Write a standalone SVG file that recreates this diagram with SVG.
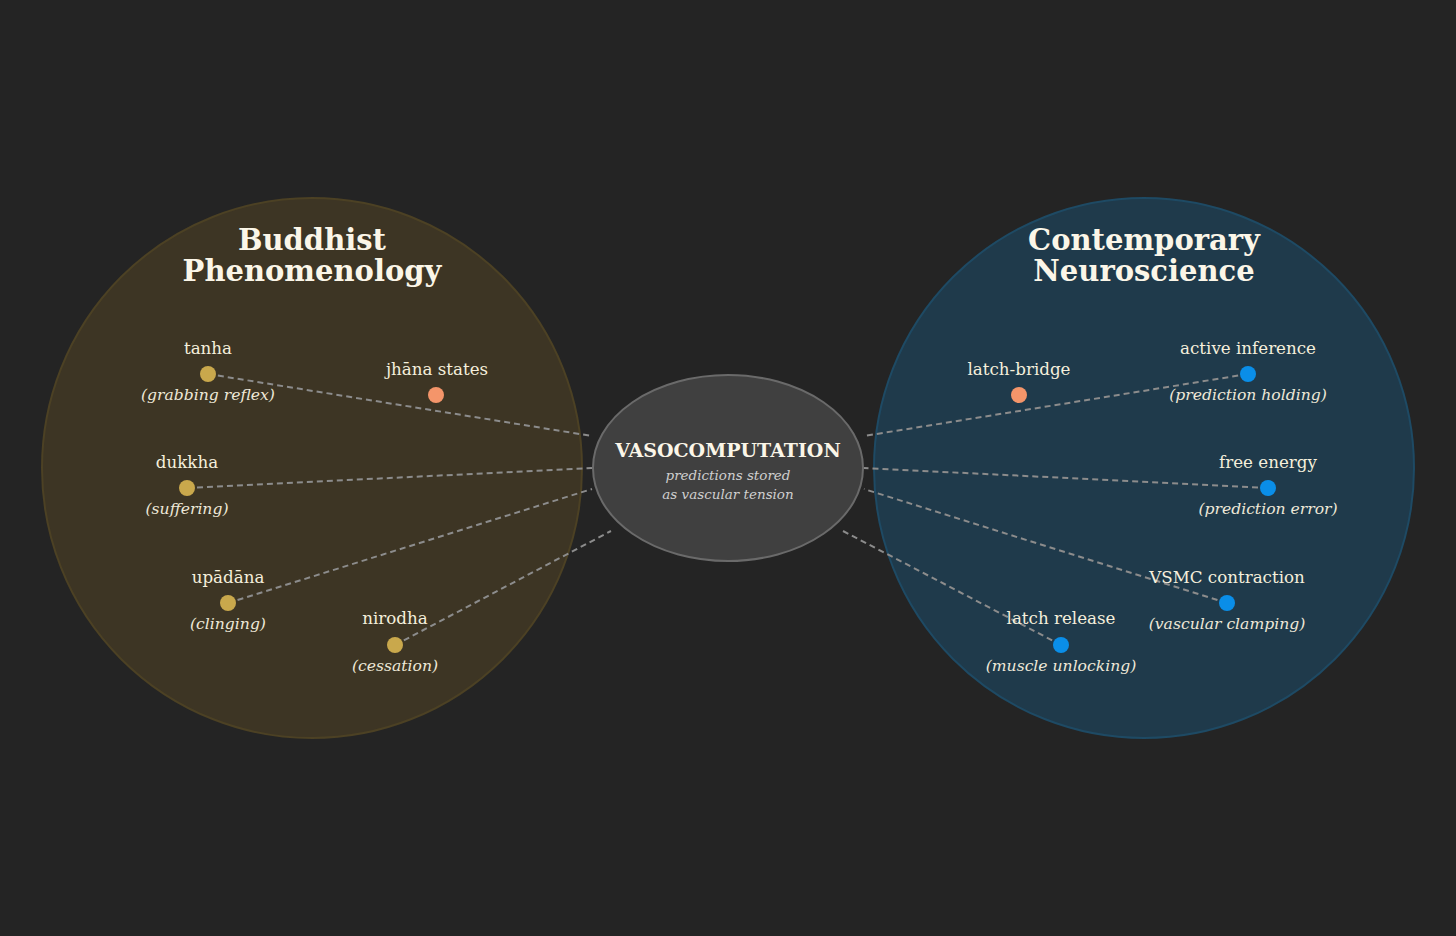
<svg xmlns="http://www.w3.org/2000/svg" width="1456" height="936" viewBox="0 0 1456 936">
<style>
.lbl{font-family:"DejaVu Serif",serif;font-size:16.7px;fill:#f5efdc;text-anchor:middle}
.sub{font-family:"DejaVu Serif",serif;font-size:15.6px;font-style:italic;fill:#eee8d8;text-anchor:middle}
.title{font-family:"DejaVu Serif",serif;font-size:29px;font-weight:bold;fill:#fbf6e8;text-anchor:middle}
.conn line{stroke:#8c8c8c;stroke-width:2;stroke-dasharray:6 4}
.gold{fill:#c9a84c}
.org{fill:#f4956a}
.blue{fill:#0a8ee8}
</style>
<rect width="1456" height="936" fill="#242424"/>
<g id="buddhist">
<circle cx="312" cy="468" r="270" fill="#3d3524" stroke="#4c4124" stroke-width="2"/>
<text class="title" x="312" y="250">Buddhist</text>
<text class="title" x="312" y="281">Phenomenology</text>
</g>
<g id="neuroscience">
<circle cx="1144" cy="468" r="270" fill="#1f3a4b" stroke="#1e4a64" stroke-width="2"/>
<text class="title" x="1144" y="250">Contemporary</text>
<text class="title" x="1144" y="281">Neuroscience</text>
</g>
<g class="conn" id="connectors">
<line x1="208" y1="374" x2="592" y2="436"/>
<line x1="187" y1="488" x2="592" y2="468"/>
<line x1="228" y1="603" x2="592" y2="489"/>
<line x1="395" y1="645" x2="611" y2="531"/>
<line x1="1248" y1="374" x2="864" y2="436"/>
<line x1="1268" y1="488" x2="864" y2="468"/>
<line x1="1227" y1="603" x2="864" y2="489"/>
<line x1="1061" y1="645" x2="843" y2="531"/>
</g>
<g id="center">
<ellipse cx="728" cy="468" rx="135" ry="93" fill="#404040" stroke="#6a6a6a" stroke-width="2"/>
<text x="728" y="457" font-family="DejaVu Serif,serif" font-size="19" font-weight="bold" fill="#fbf6e8" text-anchor="middle">VASOCOMPUTATION</text>
<text x="728" y="480" font-family="DejaVu Serif,serif" font-size="13.5" font-style="italic" fill="#cfcfcf" text-anchor="middle">predictions stored</text>
<text x="728" y="499" font-family="DejaVu Serif,serif" font-size="13.5" font-style="italic" fill="#cfcfcf" text-anchor="middle">as vascular tension</text>
</g>
<g id="tanha"><circle class="gold" cx="208" cy="374" r="8"/><text class="lbl" x="208" y="354">tanha</text><text class="sub" x="208" y="400">(grabbing reflex)</text></g>
<g id="jhana"><circle class="org" cx="436" cy="395" r="8"/><text class="lbl" x="437" y="375">jhāna states</text></g>
<g id="dukkha"><circle class="gold" cx="187" cy="488" r="8"/><text class="lbl" x="187" y="468">dukkha</text><text class="sub" x="187" y="514">(suffering)</text></g>
<g id="upadana"><circle class="gold" cx="228" cy="603" r="8"/><text class="lbl" x="228" y="583">upādāna</text><text class="sub" x="228" y="629">(clinging)</text></g>
<g id="nirodha"><circle class="gold" cx="395" cy="645" r="8"/><text class="lbl" x="395" y="624">nirodha</text><text class="sub" x="395" y="671">(cessation)</text></g>
<g id="latchbridge"><circle class="org" cx="1019" cy="395" r="8"/><text class="lbl" x="1019" y="375">latch-bridge</text></g>
<g id="activeinference"><circle class="blue" cx="1248" cy="374" r="8"/><text class="lbl" x="1248" y="354">active inference</text><text class="sub" x="1248" y="400">(prediction holding)</text></g>
<g id="freeenergy"><circle class="blue" cx="1268" cy="488" r="8"/><text class="lbl" x="1268" y="468">free energy</text><text class="sub" x="1268" y="514">(prediction error)</text></g>
<g id="vsmc"><circle class="blue" cx="1227" cy="603" r="8"/><text class="lbl" x="1227" y="583">VSMC contraction</text><text class="sub" x="1227" y="629">(vascular clamping)</text></g>
<g id="latchrelease"><circle class="blue" cx="1061" cy="645" r="8"/><text class="lbl" x="1061" y="624">latch release</text><text class="sub" x="1061" y="671">(muscle unlocking)</text></g>
</svg>
